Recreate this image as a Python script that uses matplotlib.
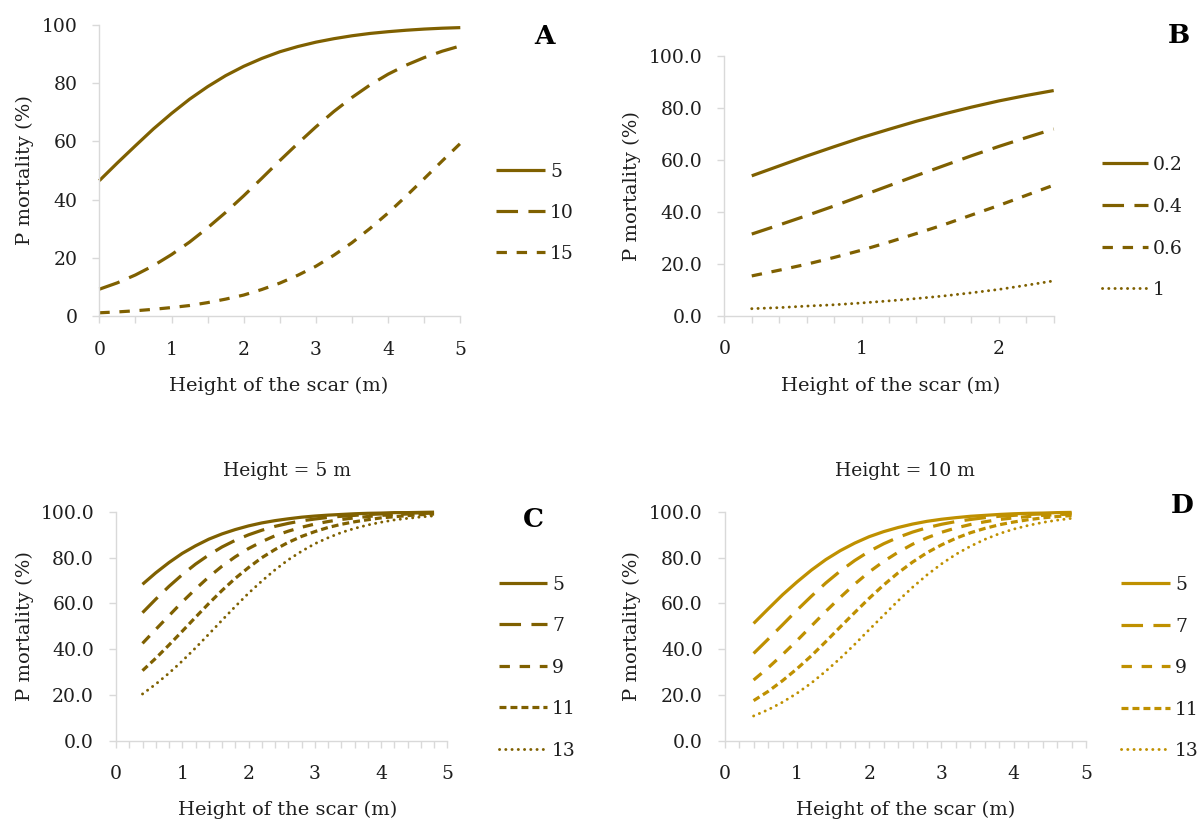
import matplotlib
matplotlib.use("Agg")
import matplotlib.pyplot as plt
from matplotlib.lines import Line2D
from matplotlib.ticker import MultipleLocator, FormatStrFormatter

# ---------------------------------------------------------------------------
# Probability of mortality (%) against height of the fire scar (m)
# ---------------------------------------------------------------------------

# Panel A
a_scar = [0, 0.25, 0.5, 0.75, 1, 1.25, 1.5, 1.75, 2, 2.25, 2.5, 2.75, 3,
          3.25, 3.5, 3.75, 4, 4.25, 4.5, 4.75, 5]
a_labels = ["5", "10", "15"]
a_p5 = [46.5, 52.6, 58.5, 64.3, 69.6, 74.5, 78.8, 82.6, 85.8, 88.5, 90.8,
        92.6, 94.1, 95.3, 96.3, 97.1, 97.7, 98.2, 98.6, 98.9, 99.1]
a_p10 = [9.2, 11.4, 14.1, 17.3, 21.1, 25.4, 30.3, 35.6, 41.3, 47.3, 53.4,
         59.3, 65.0, 70.3, 75.1, 79.4, 83.1, 86.2, 88.8, 91.0, 92.8]
a_p15 = [1.1, 1.4, 1.8, 2.3, 2.9, 3.6, 4.6, 5.8, 7.2, 9.1, 11.3,
         14.0, 17.1, 20.9, 25.2, 30.1, 35.4, 41.2, 47.2, 53.3, 59.3]

# Panel B
b_scar = [0.2, 0.4, 0.6, 0.8, 1.0, 1.2, 1.4, 1.6, 1.8, 2.0, 2.2, 2.4]
b_labels = ["0.2", "0.4", "0.6", "1"]
b_p02 = [53.8, 57.6, 61.4, 65.0, 68.5, 71.7, 74.8, 77.6, 80.2, 82.6, 84.7, 86.6]
b_p04 = [31.4, 34.9, 38.5, 42.2, 46.1, 50.0, 53.9, 57.7, 61.5, 65.1, 68.5, 71.8]
b_p06 = [15.3, 17.5, 19.8, 22.4, 25.2, 28.3, 31.6, 35.0, 38.7, 42.4, 46.3, 50.2]
b_p1 = [2.7, 3.1, 3.7, 4.2, 4.9, 5.7, 6.6, 7.6, 8.8, 10.1, 11.7, 13.4]

# Panels C and D share the scar heights and the series labels
cd_scar = [0.4, 0.6, 0.8, 1.0, 1.2, 1.4, 1.6, 1.8, 2.0, 2.2, 2.4, 2.6, 2.8,
           3.0, 3.2, 3.4, 3.6, 3.8, 4.0, 4.2, 4.4, 4.6, 4.8]
cd_labels = ["5", "7", "9", "11", "13"]

# Panel C: tree height = 5 m
c_p5 = [68.3, 73.3, 77.8, 81.8, 85.1, 88.0, 90.3, 92.2, 93.8, 95.1, 96.1, 96.9,
        97.6, 98.1, 98.5, 98.8, 99.1, 99.3, 99.4, 99.6, 99.6, 99.7, 99.8]
c_p7 = [55.9, 61.8, 67.4, 72.5, 77.1, 81.1, 84.6, 87.5, 89.9, 91.9, 93.6, 94.9,
        96.0, 96.8, 97.5, 98.0, 98.4, 98.8, 99.0, 99.2, 99.4, 99.5, 99.6]
c_p9 = [42.5, 48.6, 54.6, 60.6, 66.2, 71.5, 76.2, 80.3, 83.9, 86.9, 89.5, 91.5,
        93.2, 94.6, 95.7, 96.6, 97.3, 97.9, 98.4, 98.7, 99.0, 99.2, 99.4]
c_p11 = [30.6, 36.0, 41.8, 47.8, 53.9, 59.9, 65.6, 70.9, 75.6, 79.9, 83.5, 86.6,
         89.2, 91.3, 93.1, 94.5, 95.6, 96.5, 97.3, 97.8, 98.3, 98.7, 99.0]
c_p13 = [20.4, 24.7, 29.5, 34.8, 40.5, 46.5, 52.6, 58.6, 64.4, 69.7, 74.6, 79.0,
         82.7, 86.0, 88.6, 90.9, 92.7, 94.2, 95.4, 96.4, 97.1, 97.7, 98.2]

# Panel D: tree height = 10 m
d_p5 = [51.2, 57.5, 63.7, 69.3, 74.5, 79.1, 83.0, 86.3, 89.1, 91.3, 93.1, 94.6,
        95.8, 96.7, 97.4, 98.0, 98.4, 98.8, 99.1, 99.3, 99.4, 99.6, 99.7]
d_p7 = [38.1, 44.3, 50.6, 57.0, 63.1, 68.9, 74.1, 78.7, 82.7, 86.0, 88.8, 91.1,
        93.0, 94.5, 95.7, 96.6, 97.4, 98.0, 98.4, 98.8, 99.0, 99.3, 99.4]
d_p9 = [26.5, 31.8, 37.6, 43.7, 50.1, 56.5, 62.6, 68.4, 73.7, 78.3, 82.3, 85.8,
        88.6, 91.0, 92.9, 94.4, 95.6, 96.6, 97.3, 97.9, 98.4, 98.7, 99.0]
d_p11 = [17.5, 21.5, 26.2, 31.4, 37.1, 43.3, 49.7, 56.0, 62.2, 68.0, 73.3, 78.0,
         82.1, 85.5, 88.4, 90.8, 92.7, 94.3, 95.5, 96.5, 97.3, 97.9, 98.3]
d_p13 = [10.8, 13.5, 16.8, 20.7, 25.2, 30.4, 36.0, 42.1, 48.5, 54.8, 61.1, 67.0,
         72.4, 77.2, 81.4, 84.9, 87.9, 90.4, 92.4, 94.0, 95.3, 96.3, 97.1]

# ---------------------------------------------------------------------------
W, H, DPI = 1199, 821, 100
DARK = "#7F6000"
GOLD = "#BF9000"
AXIS = "#D9D9D9"
TEXT = "#1E1E1E"
FS_TICK = 13.5
FS_LABEL = 14

plt.rcParams["font.family"] = ["DejaVu Serif"]
plt.rcParams["lines.scale_dashes"] = False

STYLES = {
    "solid": dict(linestyle="-", linewidth=2.3),
    "long": dict(linestyle=(0, (15.5, 7.5)), linewidth=2.3),
    "dash": dict(linestyle=(0, (7.5, 7.0)), linewidth=2.3),
    "sysdash": dict(linestyle=(0, (5.0, 2.9)), linewidth=2.3),
    "dot": dict(linestyle=(0, (0.1, 4.4)), linewidth=2.1, dash_capstyle="round"),
}

fig = plt.figure(figsize=(W / DPI, H / DPI), dpi=DPI)
fig.patch.set_facecolor("white")


def fx(x):
    return x / W


def fy(y):
    return 1 - y / H


def make_axes(x0, x1, ytop, ybot):
    return fig.add_axes([fx(x0), fy(ybot), (x1 - x0) / W, (ybot - ytop) / H])


def setup(ax, xmax, xminor, yfmt):
    ax.set_xlim(0, xmax)
    ax.set_ylim(0, 100)
    ax.set_facecolor("none")
    for side in ("top", "right"):
        ax.spines[side].set_visible(False)
    for side in ("left", "bottom"):
        ax.spines[side].set_color(AXIS)
        ax.spines[side].set_linewidth(1.0)
    ax.xaxis.set_major_locator(MultipleLocator(1))
    ax.xaxis.set_minor_locator(MultipleLocator(xminor))
    ax.yaxis.set_major_locator(MultipleLocator(20))
    ax.xaxis.set_major_formatter(FormatStrFormatter("%d"))
    ax.yaxis.set_major_formatter(FormatStrFormatter(yfmt))
    ax.tick_params(which="both", direction="out", color=AXIS, width=1.0,
                   length=4.8)
    ax.tick_params(axis="x", which="major", labelsize=FS_TICK,
                   labelcolor=TEXT, pad=13)
    ax.tick_params(axis="y", labelsize=FS_TICK, labelcolor=TEXT, pad=11)


def draw_series(ax, x, series, styles, color):
    for y, st in zip(series, styles):
        ax.plot(x, y, color=color, clip_on=False, solid_capstyle="butt",
                **STYLES[st])


def draw_legend(x0, x1, xt, rows, labels, styles, color):
    for y, lab, st in zip(rows, labels, styles):
        fig.add_artist(Line2D([fx(x0), fx(x1)], [fy(y), fy(y)],
                              transform=fig.transFigure, color=color,
                              solid_capstyle="butt", **STYLES[st]))
        fig.text(fx(xt), fy(y + 6.8), lab, ha="left", va="baseline",
                 fontsize=FS_TICK, color=TEXT)


def axis_texts(xc, ybase, ylab_x, ylab_y):
    fig.text(fx(xc), fy(ybase), "Height of the scar (m)", ha="center",
             va="baseline", fontsize=FS_LABEL, color=TEXT)
    fig.text(fx(ylab_x), fy(ylab_y), "P mortality (%)", rotation=90,
             ha="center", va="center", fontsize=FS_LABEL, color=TEXT)


def panel_letter(xc, ybase, letter):
    fig.text(fx(xc), fy(ybase), letter, ha="center", va="baseline",
             fontsize=19, fontweight="bold", color="black")


# ---- A --------------------------------------------------------------------
ax_a = make_axes(99.3, 460.3, 25, 316)
setup(ax_a, 5, 0.5, "%d")
sty_a = ["solid", "long", "dash"]
draw_series(ax_a, a_scar, [a_p5, a_p10, a_p15], sty_a, DARK)
draw_legend(496, 545, 550, [170, 211, 252], a_labels, sty_a, DARK)
axis_texts(279, 391, 25, 170.5)
panel_letter(544, 44, "A")

# ---- B --------------------------------------------------------------------
ax_b = make_axes(724.3, 1053.7, 55.7, 315.7)
setup(ax_b, 2.4, 0.2, "%.1f")
sty_b = ["solid", "long", "dash", "dot"]
draw_series(ax_b, b_scar, [b_p02, b_p04, b_p06, b_p1], sty_b, DARK)
draw_legend(1102, 1148, 1153, [163, 205, 247, 288], b_labels, sty_b, DARK)
axis_texts(891, 391, 632, 185.7)
panel_letter(1179, 43, "B")

# ---- C --------------------------------------------------------------------
sty_cd = ["solid", "long", "dash", "sysdash", "dot"]
ax_c = make_axes(116, 447.3, 511.7, 740.7)
setup(ax_c, 5, 0.2, "%.1f")
draw_series(ax_c, cd_scar, [c_p5, c_p7, c_p9, c_p11, c_p13], sty_cd, DARK)
draw_legend(499, 547, 552, [583, 624, 666, 707, 749], cd_labels, sty_cd, DARK)
axis_texts(288, 815, 25, 626)
fig.text(fx(287), fy(476), "Height = 5 m", ha="center", va="baseline",
         fontsize=FS_TICK, color=TEXT)
panel_letter(533, 527, "C")

# ---- D --------------------------------------------------------------------
ax_d = make_axes(724.7, 1086, 511.7, 740.7)
setup(ax_d, 5, 0.2, "%.1f")
draw_series(ax_d, cd_scar, [d_p5, d_p7, d_p9, d_p11, d_p13], sty_cd, GOLD)
draw_legend(1121, 1170, 1175, [583, 625, 666, 708, 749], cd_labels, sty_cd, GOLD)
axis_texts(906, 815, 632, 626)
fig.text(fx(905), fy(476), "Height = 10 m", ha="center", va="baseline",
         fontsize=FS_TICK, color=TEXT)
panel_letter(1182, 513, "D")

fig.savefig("out.png", dpi=DPI, facecolor="white")
